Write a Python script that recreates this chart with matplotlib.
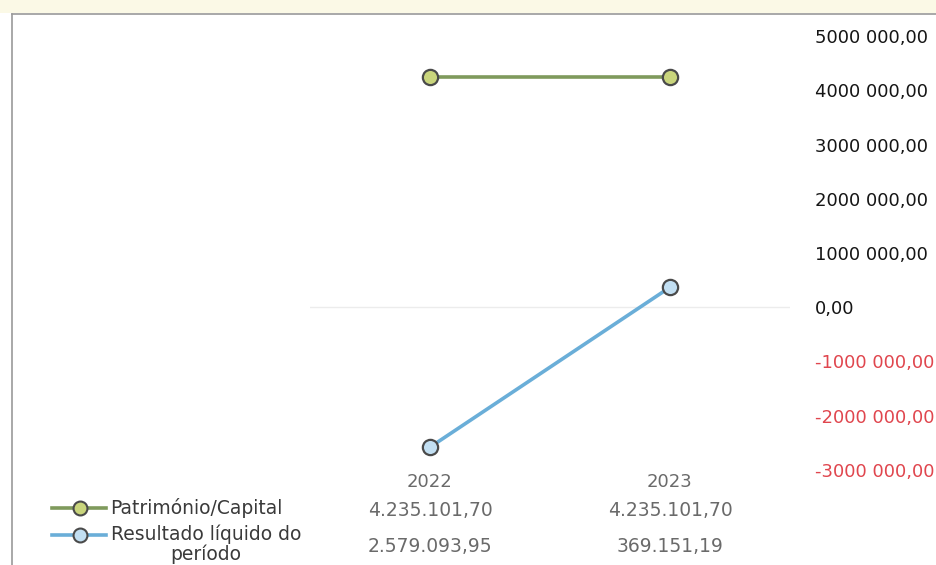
import matplotlib
matplotlib.use('Agg')
import matplotlib.pyplot as plt
from matplotlib.lines import Line2D
from matplotlib.patches import Rectangle

# data
years = ['2022', '2023']
patrimonio = [4235101.70, 4235101.70]
resultado = [-2579093.95, 369151.19]
series_names = ['Património/Capital', 'Resultado líquido do\nperíodo']
yticks = [5000000, 4000000, 3000000, 2000000, 1000000, 0, -1000000, -2000000, -3000000]

green_line = '#7f9a5c'
green_fill = '#c9d57c'
blue_line = '#6aaed8'
blue_fill = '#c2dff2'
edge = '#4a4a4a'
gray_txt = '#6a6a6a'


def axis_fmt(v):
    if v == 0:
        return '0,00'
    s = '-' if v < 0 else ''
    v = abs(int(v))
    return f"{s}{v // 1000} {v % 1000:03d},00"


def table_fmt(v):
    s = f"{abs(v):,.2f}"
    return s.replace(',', 'X').replace('.', ',').replace('X', '.')


fig = plt.figure(figsize=(9.36, 5.65), dpi=100)
fig.patch.set_facecolor('white')

# faint yellow strip + frame
fig.add_artist(Rectangle((0, 1 - 13 / 565), 1, 13 / 565, transform=fig.transFigure,
                         facecolor='#fbf9e6', edgecolor='none'))
fig.add_artist(Line2D([12 / 936, 12 / 936], [0, 1 - 14 / 565], transform=fig.transFigure,
                      color='#9a9a9a', lw=1.2))
fig.add_artist(Line2D([12 / 936, 1], [1 - 14 / 565, 1 - 14 / 565], transform=fig.transFigure,
                      color='#9a9a9a', lw=1.2))

ax = fig.add_axes([310 / 936, 1 - 470 / 565, 480 / 936, 434 / 565])
ax.set_facecolor('none')
x = list(range(len(years)))
ax.plot(x, patrimonio, color=green_line, lw=2.6, marker='o', ms=11,
        markerfacecolor=green_fill, markeredgecolor=edge, markeredgewidth=1.6, zorder=3)
ax.plot(x, resultado, color=blue_line, lw=2.6, marker='o', ms=11,
        markerfacecolor=blue_fill, markeredgecolor=edge, markeredgewidth=1.6, zorder=3)
ax.set_xlim(-0.5, len(years) - 0.5)
ax.set_ylim(-3000000, 5000000)
ax.axhline(0, color='#ececec', lw=1, zorder=1)

for s in ax.spines.values():
    s.set_visible(False)
ax.set_xticks([])
ax.yaxis.tick_right()
ax.set_yticks(yticks)
ax.set_yticklabels([axis_fmt(v) for v in yticks])
ax.tick_params(axis='y', length=0, pad=18, labelsize=13)
for lab, v in zip(ax.get_yticklabels(), yticks):
    lab.set_color('#e0464e' if v < 0 else '#151515')
    lab.set_fontfamily('DejaVu Sans')

# data table below
def fy(py):
    return 1 - py / 565


xpos = [ax.transData.transform((i, 0))[0] / 936 for i in x]
for xp, yr in zip(xpos, years):
    fig.text(xp, fy(482), yr, ha='center', va='center', fontsize=13, color=gray_txt)
for xp, v in zip(xpos, patrimonio):
    fig.text(xp, fy(510), table_fmt(v), ha='center', va='center', fontsize=13.5, color=gray_txt)
for xp, v in zip(xpos, resultado):
    fig.text(xp, fy(546), table_fmt(v), ha='center', va='center', fontsize=13.5, color=gray_txt)

# legend keys
for yk, lc, fc in [(508, green_line, green_fill), (535, blue_line, blue_fill)]:
    fig.add_artist(Line2D([52 / 936, 106 / 936], [fy(yk), fy(yk)], transform=fig.transFigure,
                          color=lc, lw=2.6))
    fig.add_artist(Line2D([80 / 936], [fy(yk)], transform=fig.transFigure, marker='o', ms=10,
                          markerfacecolor=fc, markeredgecolor=edge, markeredgewidth=1.5))
fig.text(110 / 936, fy(508), series_names[0], ha='left', va='center', fontsize=13.5, color='#3a3a3a')
fig.text(206 / 936, fy(544), series_names[1], ha='center', va='center', fontsize=13.5,
         color='#3a3a3a', linespacing=1.05)

fig.savefig('out.png', dpi=100)
